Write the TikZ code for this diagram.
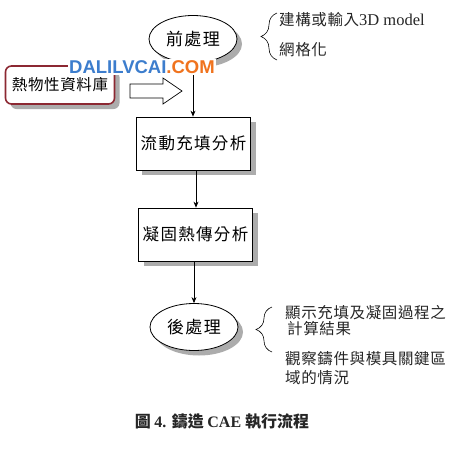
\documentclass[tikz,border=0pt]{standalone}
\usepackage{fontspec}
\setmainfont{Liberation Serif}
\newfontfamily\cjk{Noto Sans CJK TC}
\newfontfamily\cjkwide[LetterSpace=8]{Noto Sans CJK TC}
\newfontfamily\cjkmid[LetterSpace=4]{Noto Sans CJK TC}
\newfontfamily\wmfont{Liberation Sans}
\usetikzlibrary{shapes.geometric,shadows,arrows.meta,decorations.pathreplacing}
\definecolor{boxred}{RGB}{140,40,50}
\definecolor{wmblue}{RGB}{60,125,205}
\definecolor{wmorange}{RGB}{240,115,30}
\tikzset{
  shad/.style={drop shadow={shadow xshift=5pt,shadow yshift=-5pt,fill=gray!65,opacity=1}},
  procbox/.style={draw=black,fill=white,line width=0.8pt,minimum width=114,minimum height=53,inner sep=0pt,font=\cjkwide\fontsize{16.5}{18}\selectfont,shad},
  oval/.style={ellipse,draw=black,fill=white,line width=0.8pt,minimum width=88,minimum height=47,inner sep=0pt,font=\cjkwide\fontsize{17}{18}\selectfont,shad},
  note/.style={anchor=west,inner sep=0pt,font=\cjkmid\fontsize{15.5}{17}\selectfont,text=black!85},
  conn/.style={-{Stealth[length=6pt,width=5pt]},line width=0.7pt},
  bracestyle/.style={decorate,decoration={brace,amplitude=16pt,aspect=0.5},line width=0.6pt}
}
\begin{document}
\begin{tikzpicture}[x=1pt,y=-1pt]
\useasboundingbox[fill=white] (0,0) rectangle (451,451);
% pre-processing
\node[oval] (pre) at (193,39) {前處理};
\draw[bracestyle] (277,60) coordinate (b1s) -- (277,13) coordinate (b1e);
\node[note] (t1) at (279,20) {建構或輸入\fontspec{Liberation Serif}\fontsize{16.5}{17}\selectfont 3D model};
\node[note] (t2) at (279,50) {網格化};
% material database
\node[draw=boxred,line width=1.6pt,rounded corners=6pt,fill=white,minimum width=109,minimum height=38,inner sep=0pt,font=\cjkmid\fontsize{15.5}{17}\selectfont,shad] (db) at (60,85) {熱物性資料庫};
\draw[line width=0.7pt,fill=white] (130,84) coordinate (ha) -- (163,84) -- (163,78) -- (182,91) coordinate (hb) -- (163,104) -- (163,98) -- (130,98) -- cycle;
% process boxes
\node[procbox] (fill) at (193.5,143.5) {流動充填分析};
\node[procbox] (solid) at (195.5,234.5) {凝固熱傳分析};
% post-processing
\node[oval] (post) at (194,327) {後處理};
\draw[bracestyle] (272,352) coordinate (b2s) -- (272,307) coordinate (b2e);
\node[note] (t3) at (285,313) {顯示充填及凝固過程之};
\node[note] (t4) at (287,329) {計算結果};
\node[note] (t5) at (285,359) {觀察鑄件與模具關鍵區};
\node[note] (t6) at (285,378) {域的情況};
% connectors
\draw[conn] (pre.south) -- (pre.south |- fill.north);
\draw[conn] (fill.south -| 196,0) -- (solid.north -| 196,0);
\draw[conn] (solid.south -| 194,0) -- (post.north);
% watermark (on top)
\node[fill=white,inner xsep=1pt,inner ysep=1.5pt,font=\wmfont\bfseries\fontsize{18.5}{20}\selectfont] (wm) at (142,67) {\textcolor{wmblue}{DALILVCAI}\textcolor{wmorange}{.COM}};
% caption
\node[inner sep=0pt,font=\cjk\bfseries\fontsize{16}{18}\selectfont,text=black!85] (cap) at (222,422) {圖 \fontspec{Liberation Serif}\bfseries 4. \cjk\bfseries 鑄造 \fontspec{Liberation Serif}\bfseries CAE \cjk\bfseries 執行流程};
\end{tikzpicture}
\end{document}
